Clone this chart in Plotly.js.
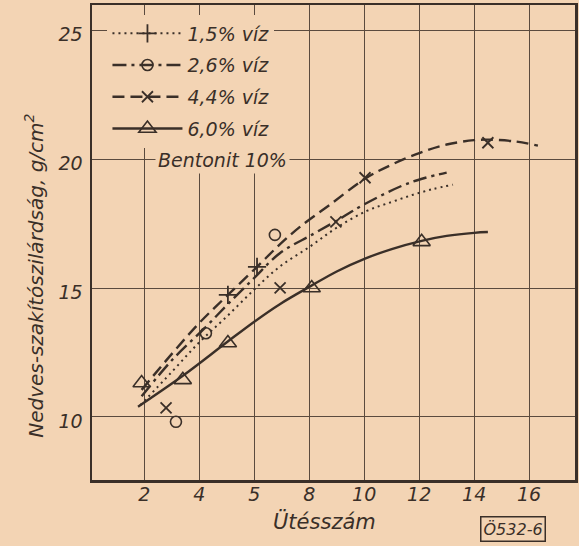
<!DOCTYPE html>
<html>
<head>
<meta charset="utf-8">
<script src="https://cdn.plot.ly/plotly-3.0.1.min.js"></script>
<style>html,body{margin:0;padding:0;background:#f3d4b4;}</style>
</head>
<body>
<div id="chart" style="width:579px;height:546px;"></div>
<script>
// Series names
const seriesNames = ["1,5% víz", "2,6% víz", "4,4% víz", "6,0% víz"];

// Drawn curves
const curve15X = [1.85, 3.0, 4.0, 5.0, 6.0, 6.93, 8.03, 9.0, 10.09, 11.0, 11.78, 12.5, 13.23];
const curve15Y = [10.45, 11.75, 12.9, 13.9, 14.95, 15.84, 16.62, 17.35, 18.0, 18.35, 18.63, 18.85, 19.02];

const curve26X = [1.9, 3.0, 4.24, 5.04, 6.0, 6.93, 8.14, 9.12, 9.97, 11.42, 12.2, 13.0];
const curve26Y = [10.8, 12.2, 13.5, 14.38, 15.4, 16.36, 17.1, 17.7, 18.24, 19.0, 19.28, 19.49];

const curve44X = [1.9, 3.0, 4.0, 5.04, 6.1, 6.93, 7.66, 8.76, 10.07, 11.0, 12.03, 13.0, 14.0, 14.5, 15.5, 16.32];
const curve44Y = [11.05, 12.45, 13.65, 14.74, 15.83, 16.7, 17.38, 18.25, 19.28, 19.8, 20.26, 20.58, 20.75, 20.77, 20.7, 20.54];

const curve60X = [1.77, 3.4, 5.0, 6.0, 6.93, 8.05, 9.0, 10.03, 11.0, 12.09, 13.0, 14.0, 14.5];
const curve60Y = [10.4, 11.6, 12.9, 13.7, 14.38, 15.08, 15.65, 16.15, 16.52, 16.84, 17.03, 17.15, 17.18];

const pts15X = [5.04, 6.10];
const pts15Y = [14.74, 15.83];
const pts26X = [3.15, 4.24, 6.75];
const pts26Y = [9.81, 13.25, 17.07];
const pts44X = [2.79, 6.94, 8.97, 10.03, 14.50];
const pts44Y = [10.35, 15.01, 17.58, 19.29, 20.65];
const pts60X = [1.90, 3.40, 5.04, 8.09, 12.09];
const pts60Y = [11.32, 11.44, 12.87, 15.01, 16.80];

// Axis ticks
const xTickVals = [2, 4, 6, 8, 10, 12, 14, 16];
const xTickText = ["2", "4", "5", "8", "10", "12", "14", "16"];
const yTickVals = [10, 15, 20, 25];

const ink = "#3a2f28";
const bg = "#f3d4b4";
const fontFam = "DejaVu Sans, sans-serif";

const lineStyles = [
  {dash: "2px,4px", width: 2},
  {dash: "14px,5px,3px,5px", width: 2.4},
  {dash: "12px,6px", width: 2.4},
  {dash: "solid", width: 2.4}
];
const markerStyles = [
  {symbol: "cross-thin-open", size: 13, line: {width: 1.8, color: ink}, color: ink},
  {symbol: "circle-open", size: 11, line: {width: 1.6, color: ink}, color: ink},
  {symbol: "x-thin-open", size: 11, line: {width: 1.8, color: ink}, color: ink},
  {symbol: "triangle-up-open", size: 15, line: {width: 1.6, color: ink}, color: ink}
];

const curves = [[curve15X, curve15Y], [curve26X, curve26Y], [curve44X, curve44Y], [curve60X, curve60Y]];
const pts = [[pts15X, pts15Y], [pts26X, pts26Y], [pts44X, pts44Y], [pts60X, pts60Y]];

const traces = [];
for (let i = 0; i < 4; i++) {
  traces.push({
    x: curves[i][0], y: curves[i][1], type: "scatter", mode: "lines",
    line: {color: ink, width: lineStyles[i].width, dash: lineStyles[i].dash, shape: "spline", smoothing: 1},
    showlegend: false, hoverinfo: "skip"
  });
  traces.push({
    x: pts[i][0], y: pts[i][1], type: "scatter", mode: "markers",
    marker: markerStyles[i], showlegend: false, cliponaxis: false
  });
}
// legend-only entries
for (let i = 0; i < 4; i++) {
  traces.push({
    x: [null], y: [null], type: "scatter", mode: "lines+markers",
    name: seriesNames[i], legendgroup: "g" + i,
    line: {color: ink, width: lineStyles[i].width, dash: lineStyles[i].dash},
    marker: markerStyles[i]
  });
}

const axisCommon = {
  showline: true, linecolor: ink, linewidth: 2.5, mirror: true,
  showgrid: true, gridcolor: "#5a4a3e", gridwidth: 1,
  zeroline: false, ticks: "",
  tickfont: {family: fontFam, size: 19, color: ink, style: "italic"}
};

const layout = {
  width: 579, height: 546,
  margin: {l: 92, r: 4, t: 5, b: 66},
  paper_bgcolor: bg, plot_bgcolor: bg,
  font: {family: fontFam, color: ink, style: "italic"},
  xaxis: Object.assign({}, axisCommon, {
    range: [0.095, 17.67], tickmode: "array", tickvals: xTickVals, ticktext: xTickText,
    ticklabelstandoff: -4
  }),
  yaxis: Object.assign({}, axisCommon, {
    range: [7.55, 26.0], tickmode: "array", tickvals: yTickVals,
    ticklabelstandoff: 3, ticklabelshift: 4
  }),
  showlegend: true,
  legend: {
    x: 0.032, y: 0.98, xanchor: "left", yanchor: "top",
    bgcolor: bg, borderwidth: 0,
    font: {family: fontFam, size: 19, color: ink, style: "italic"},
    itemwidth: 70, traceorder: "grouped", tracegroupgap: 4,
    itemclick: false
  },
  annotations: [
    {text: "Bentonit 10%", xref: "x", yref: "y", x: 4.83, y: 19.99,
     showarrow: false, bgcolor: bg, borderpad: 2,
     font: {family: fontFam, size: 19, color: ink, style: "italic"}},
    {text: "Nedves-szakítószilárdság, g/cm<sup>2</sup>", xref: "paper", yref: "paper",
     x: -0.12, y: 0.43, xanchor: "center", yanchor: "middle", textangle: -90, showarrow: false,
     font: {family: fontFam, size: 20, color: ink, style: "italic"}},
    {text: "Ütésszám", xref: "paper", yref: "paper",
     x: 0.482, y: -0.088, xanchor: "center", yanchor: "middle", showarrow: false,
     font: {family: fontFam, size: 21, color: ink, style: "italic"}},
    {text: "Ö532-6", xref: "paper", yref: "paper",
     x: 0.872, y: -0.103, xanchor: "center", yanchor: "middle", showarrow: false,
     bordercolor: ink, borderwidth: 1.5, borderpad: 2,
     font: {family: fontFam, size: 16, color: ink, style: "italic"}}
  ]
};

Plotly.newPlot("chart", traces, layout, {displayModeBar: false, staticPlot: true});
</script>
</body>
</html>
